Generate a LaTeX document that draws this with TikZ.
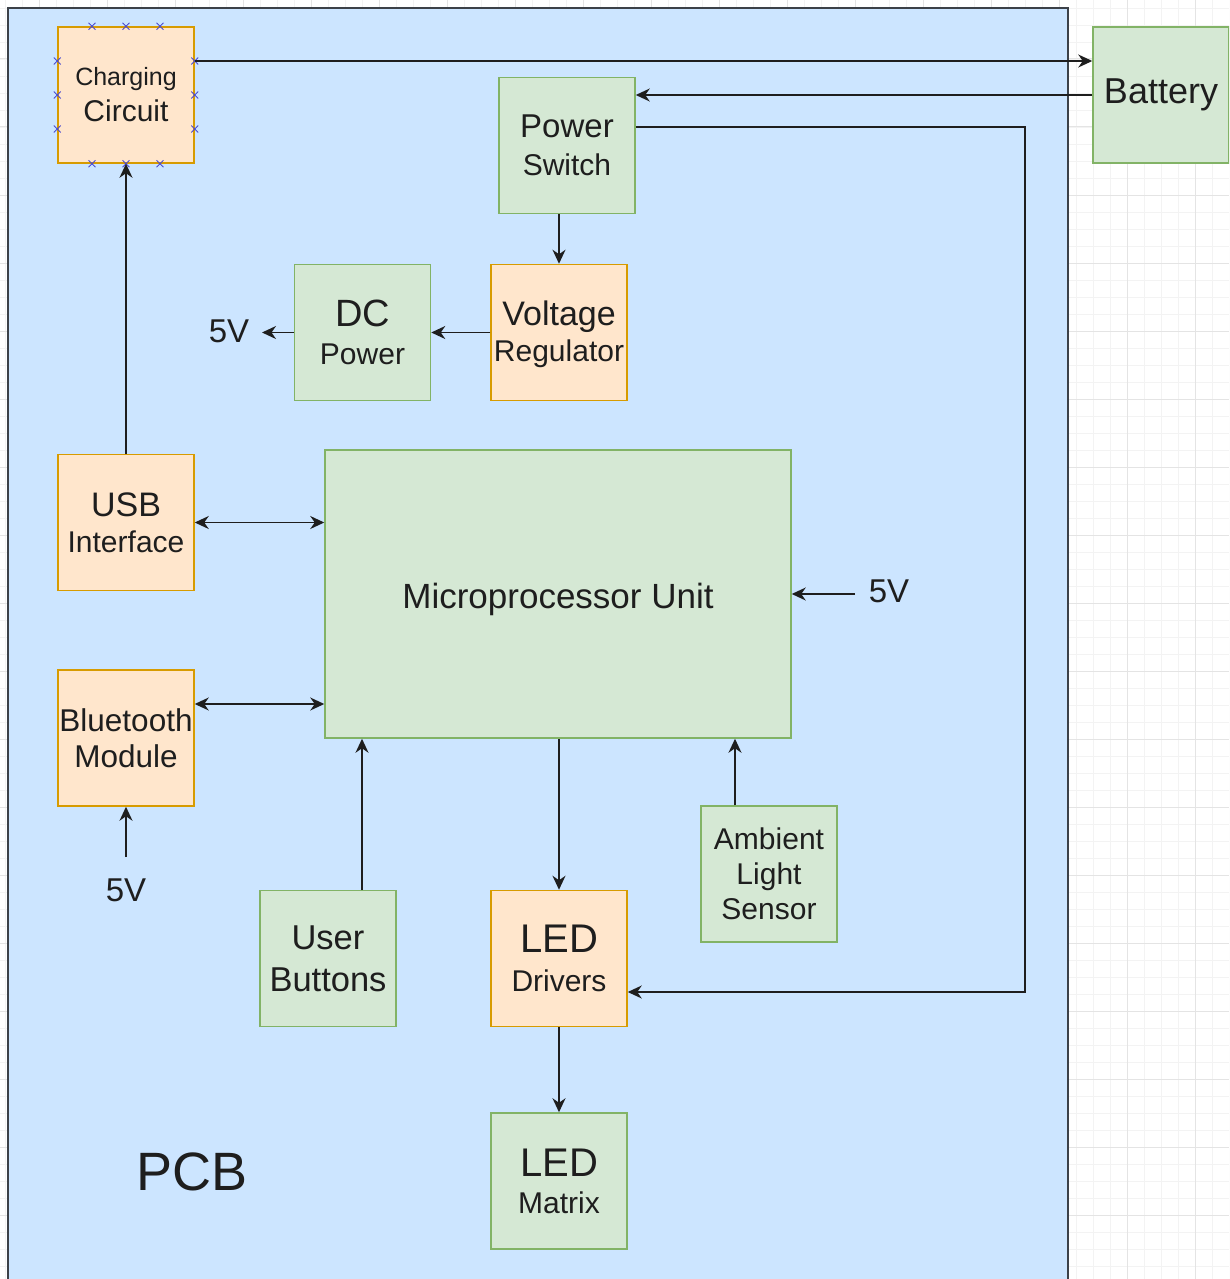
\documentclass[tikz,border=0pt]{standalone}
\usepackage{fontspec}
\setmainfont{Liberation Sans}
\usepackage{tikz}
\usetikzlibrary{arrows.meta,positioning,shapes.misc}
\definecolor{pcb-fill}{HTML}{CCE5FF}
\definecolor{pcb-line}{HTML}{3C4148}
\definecolor{orng-fill}{HTML}{FFE6CC}
\definecolor{orng-line}{HTML}{D79B00}
\definecolor{grn-fill}{HTML}{D5E8D4}
\definecolor{grn-line}{HTML}{82B366}
\definecolor{sel-blue}{HTML}{4A4AD0}
\definecolor{grid-major}{HTML}{E4E4E4}
\definecolor{grid-minor}{HTML}{F3F3F3}
\definecolor{ink}{HTML}{1E1E1E}
\newcommand{\fs}[1]{\fontsize{#1}{35}\selectfont}

\begin{document}
\begin{tikzpicture}[
  x=1pt, y=-1pt,
  block/.style={
    rectangle, line width=1.5pt,
    minimum width=136pt, minimum height=136pt,
    inner sep=0pt, align=center, font=\fs{30}, text=ink
  },
  orangebox/.style={block, draw=orng-line, fill=orng-fill},
  greenbox/.style={block, draw=grn-line, fill=grn-fill},
  arrow/.style={
    -{Stealth[length=14pt,width=13pt,inset=4.5pt]}, line width=1.6pt, ink
  },
  dblarrow/.style={
    {Stealth[length=14pt,width=13pt,inset=4.5pt]}-{Stealth[length=14pt,width=13pt,inset=4.5pt]},
    line width=1.6pt, ink
  },
  lbl/.style={inner sep=0pt, font=\fs{33}, text=ink},
  selmark/.style={
    cross out, draw=sel-blue, line width=0.9pt,
    minimum size=6pt, inner sep=0pt
  }
]
\useasboundingbox (0,0) rectangle (1229,1279);
\clip (0,0) rectangle (1229,1279);

%% Canvas grid
\foreach \gx in {5,22,...,1229} \draw[grid-minor, line width=0.8pt] (\gx,0) -- (\gx,1279);
\foreach \gy in {8,25,...,1279} \draw[grid-minor, line width=0.8pt] (0,\gy) -- (1229,\gy);
\foreach \gx in {39,107,...,1229} \draw[grid-major, line width=1pt] (\gx,0) -- (\gx,1279);
\foreach \gy in {59,127,...,1279} \draw[grid-major, line width=1pt] (0,\gy) -- (1229,\gy);

%% PCB area
\fill[pcb-fill] (8,8) rectangle (1068,1300);
\draw[pcb-line, line width=1.6pt] (8,1300) -- (8,8) -- (1068,8) -- (1068,1300);
\node[font=\fs{54}, inner sep=0pt, text=ink] (pcb) at (192,1172) {PCB};

%% Power path
\node[orangebox] (charge) at (126,95) {{\fs{25}Charging}\\[1pt]{\fs{30}Circuit}};
\node[greenbox] (battery) at (1161,95) {\fs{36}Battery};
\node[greenbox] (pswitch) at (567,145.5) {{\fs{33}Power}\\[3pt]{\fs{30}Switch}};
\node[orangebox] (vreg) at (559,332.5) {\raisebox{-2pt}[\height][\depth]{\fs{34}Voltage}\\[1pt]\raisebox{-2pt}[\height][\depth]{\fs{30}Regulator}};
\node[greenbox, left=59pt of vreg] (dcpow) {{\fs{38}DC}\\[3pt]{\fs{30}Power}};

%% Processing
\node[greenbox, minimum width=466pt, minimum height=288pt] (mpu) at (558,594) {\raisebox{-5pt}[\height][\depth]{\fs{35}Microprocessor Unit}};
\node[orangebox] (usb) at (126,522.5) {{\fs{34}USB}\\[1pt]{\fs{30}Interface}};
\node[orangebox] (bt) at (126,738) {{\fs{31.5}Bluetooth}\\[1pt]{\fs{31.5}Module}};
\node[greenbox] (ubtn) at (328,958.5) {{\fs{34.5}User}\\[7pt]{\fs{34.5}Buttons}};
\node[orangebox] (leddrv) at (559,958.5) {{\fs{40}LED}\\[4pt]{\fs{30}Drivers}};
\node[greenbox] (als) at (769,874) {Ambient\\Light\\Sensor};
\node[greenbox, below=85pt of leddrv] (ledmat) {{\fs{40}LED}\\[2pt]{\fs{30}Matrix}};

%% 5V supplies
\node[lbl] (v5dc) at (229,331) {5V};
\node[lbl] (v5mpu) at (889,591) {5V};
\node[lbl] (v5bt) at (126,890) {5V};
\coordinate (dcout) at (262,332.5);
\coordinate (mpuin) at (855,594);
\coordinate (btin) at (126,857);
\coordinate (psbus) at (1025,127);

%% Selection handles
\foreach \d in {-34,0,34} {
  \node[selmark] at ([xshift=\d pt]charge.north) {};
  \node[selmark] at ([xshift=\d pt]charge.south) {};
  \node[selmark] at ([yshift=\d pt]charge.west) {};
  \node[selmark] at ([yshift=\d pt]charge.east) {};
}

%% Arrows
\draw[arrow] ([yshift=34pt]charge.east) -- ([yshift=34pt]battery.west);
\draw[arrow] (battery.west) -- (battery.west -| pswitch.east);
\draw[arrow] ([yshift=18.5pt]pswitch.east) -- (psbus) |- ([yshift=-33.5pt]leddrv.east);
\draw[arrow] (vreg.north |- pswitch.south) -- (vreg.north);
\draw[arrow] (vreg) -- (dcpow);
\draw[arrow] (dcpow) -- (dcout);
\draw[arrow] (usb) -- (charge);
\draw[dblarrow] (usb.east) -- (usb.east -| mpu.west);
\draw[dblarrow] ([yshift=34pt]bt.east) -- ([yshift=34pt]bt.east -| mpu.west);
\draw[arrow] (btin) -- (bt);
\draw[arrow] ([xshift=34pt]ubtn.north) -- ([xshift=34pt]ubtn.north |- mpu.south);
\draw[arrow] (leddrv.north |- mpu.south) -- (leddrv.north);
\draw[arrow] ([xshift=-34pt]als.north) -- ([xshift=-34pt]als.north |- mpu.south);
\draw[arrow] (leddrv) -- (ledmat);
\draw[arrow] (mpuin) -- (mpu.east);

\end{tikzpicture}
\end{document}
